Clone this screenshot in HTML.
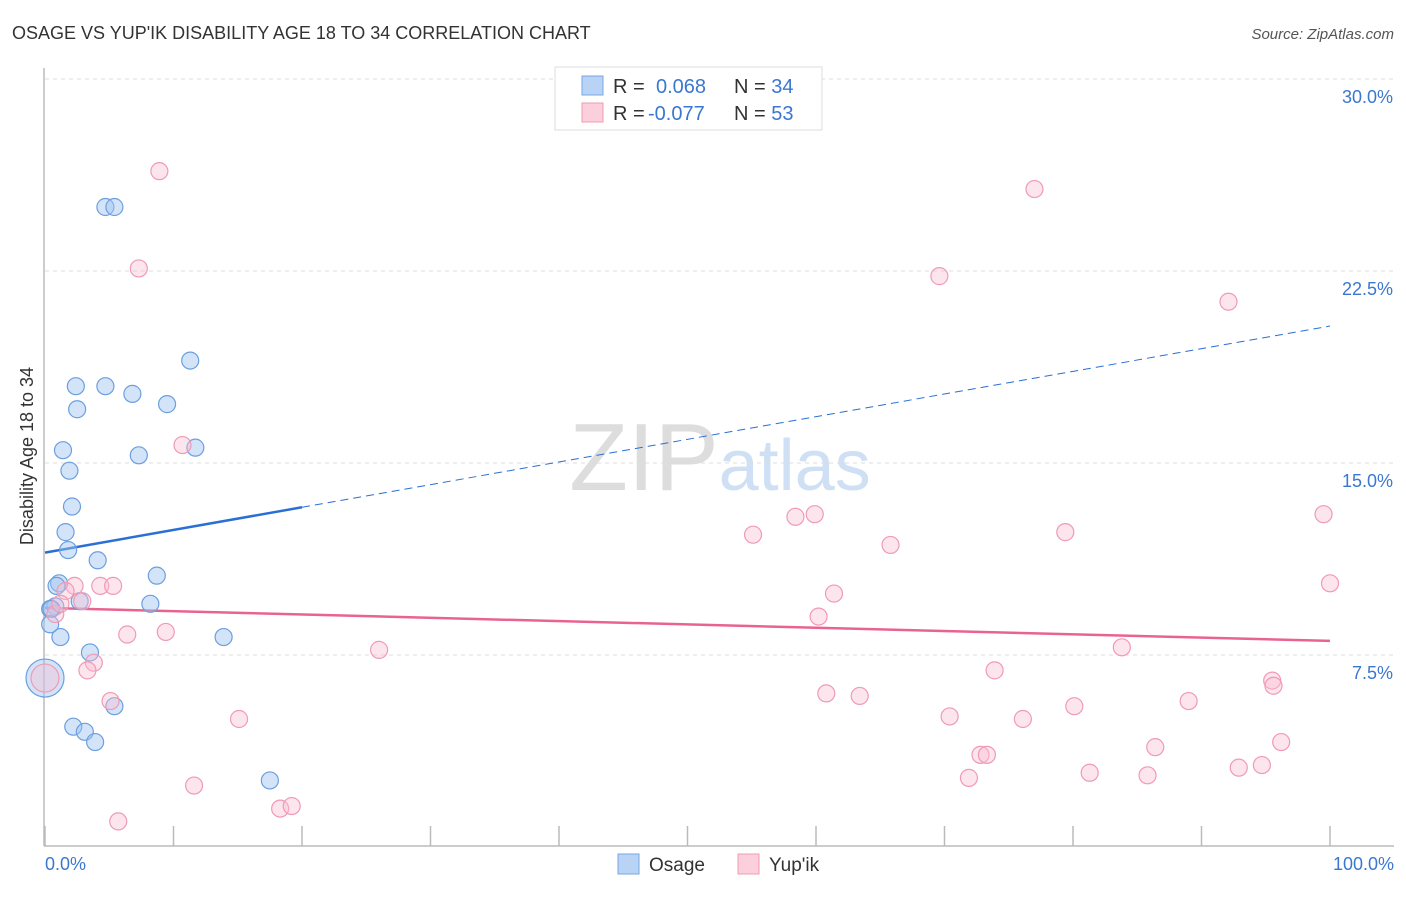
<!DOCTYPE html>
<html><head><meta charset="utf-8"><style>
body{margin:0;background:#fff;font-family:"Liberation Sans",sans-serif;}
svg text{font-family:"Liberation Sans",sans-serif;}
</style></head><body>
<svg id="chart" width="1406" height="892" xmlns="http://www.w3.org/2000/svg">
<text x="12" y="39" font-size="18" fill="#333">OSAGE VS YUP'IK DISABILITY AGE 18 TO 34 CORRELATION CHART</text>
<text x="1394" y="39" font-size="15" fill="#555" text-anchor="end" font-style="italic">Source: ZipAtlas.com</text>
<text x="720" y="490" font-size="96" text-anchor="middle" fill="#ddd" font-family="Liberation Serif">ZIP<tspan fill="#cfe0f5" font-family="Liberation Sans" font-size="72">atlas</tspan></text>
<g id="grid"></g>
<g id="axes"></g>
<g id="trends"></g>
<g id="pts"></g>
<text transform="translate(33,456) rotate(-90)" font-size="18" fill="#333" text-anchor="middle">Disability Age 18 to 34</text>
<text x="45" y="870" font-size="18" fill="#3a78d0">0.0%</text>
<text x="1394" y="870" font-size="18" fill="#3a78d0" text-anchor="end">100.0%</text>
<g>
<rect x="555" y="67" width="267" height="63" fill="#fff" stroke="#ddd"/>
<rect x="582" y="76" width="21" height="19" fill="#b8d3f5" stroke="#7aa7e0"/>
<rect x="582" y="103" width="21" height="19" fill="#fccfdc" stroke="#f09ab5"/>
<text x="613" y="93" font-size="20" fill="#333">R = <tspan fill="#3a78d0" x="656">0.068</tspan><tspan x="734" fill="#333">N = </tspan><tspan fill="#3a78d0">34</tspan></text>
<text x="613" y="120" font-size="20" fill="#333">R = <tspan fill="#3a78d0" x="648">-0.077</tspan><tspan x="734" fill="#333">N = </tspan><tspan fill="#3a78d0">53</tspan></text>
</g>
<g>
<rect x="618" y="854" width="21" height="20" fill="#b8d3f5" stroke="#7aa7e0"/>
<text x="649" y="871" font-size="19" fill="#333">Osage</text>
<rect x="738" y="854" width="21" height="20" fill="#fccfdc" stroke="#f09ab5"/>
<text x="769" y="871" font-size="19" fill="#333">Yup'ik</text>
</g>
</svg>
<script>
const yTicks=[7.5,15,22.5,30];
const yTickLabels=["7.5%","15.0%","22.5%","30.0%"];
const xTicks=[0,10,20,30,40,50,60,70,80,90,100];
const osageX=[4.7,5.4,11.3,2.4,4.7,6.8,9.5,2.5,11.7,1.4,7.3,1.9,2.1,1.6,1.8,4.1,8.7,1.1,0.9,8.2,2.7,0.8,0.4,0.5,1.2,13.9,3.5,0,5.4,2.2,3.1,3.9,17.5,0.4];
const osageY=[25.0,25.0,19.0,18.0,18.0,17.7,17.3,17.1,15.6,15.5,15.3,14.7,13.3,12.3,11.6,11.2,10.6,10.3,10.2,9.5,9.6,9.4,9.3,9.3,8.2,8.2,7.6,6.6,5.5,4.7,4.5,4.1,2.6,8.7];
const yupikX=[8.9,77.0,7.3,69.6,92.1,10.7,99.5,55.1,58.4,59.9,79.4,65.8,2.3,4.3,5.3,2.9,100,61.4,1.6,60.2,0.8,9.4,6.4,26.0,83.8,3.8,3.3,73.9,0,60.8,63.4,5.1,80.1,89.0,95.5,95.6,15.1,70.4,76.1,86.4,96.2,72.8,73.3,81.3,85.8,92.9,94.7,71.9,11.6,18.3,19.2,5.7,1.2];
const yupikY=[26.4,25.7,22.6,22.3,21.3,15.7,13.0,12.2,12.9,13.0,12.3,11.8,10.2,10.2,10.2,9.6,10.3,9.9,10.0,9.0,9.1,8.4,8.3,7.7,7.8,7.2,6.9,6.9,6.6,6.0,5.9,5.7,5.5,5.7,6.5,6.3,5.0,5.1,5.0,3.9,4.1,3.6,3.6,2.9,2.8,3.1,3.2,2.7,2.4,1.5,1.6,1.0,9.5];
const osageTrend=[11.5,20.35];
const yupikTrend=[9.34,8.05];
const osageSolidEnd=20;
const NS="http://www.w3.org/2000/svg";
const sx=v=>45+v*12.85, sy=v=>847-v*25.6;
function mk(tag,parent,attrs){const e=document.createElementNS(NS,tag);for(const k in attrs)e.setAttribute(k,attrs[k]);parent.appendChild(e);return e;}
const grid=document.getElementById('grid'),axes=document.getElementById('axes'),tr=document.getElementById('trends'),pts=document.getElementById('pts');
yTicks.forEach((t,i)=>{
 const l=mk('line',grid,{x1:45,x2:1394,y1:sy(t),y2:sy(t),stroke:'#ddd','stroke-dasharray':'4,4'});
 
 
 const tx=mk('text',grid,{x:1393,y:sy(t)+24,'font-size':18,fill:'#3a78d0','text-anchor':'end'});
 tx.textContent=yTickLabels[i];
 
 
});
const ya=mk('line',axes,{x1:44,x2:44,y1:68,y2:846,stroke:'#bbb','stroke-width':1.5});


const xa=mk('line',axes,{x1:44,x2:1394,y1:846,y2:846,stroke:'#bbb','stroke-width':1.5});


xTicks.forEach(t=>{
 const k=mk('line',axes,{x1:sx(t),x2:sx(t),y1:826,y2:846,stroke:'#bbb','stroke-width':1.5});
 
 
});
const ty=x=>osageTrend[0]+(osageTrend[1]-osageTrend[0])*x/100;
const t1=mk('line',tr,{x1:sx(0),y1:sy(ty(0)),x2:sx(osageSolidEnd),y2:sy(ty(osageSolidEnd)),stroke:'#2a6fd6','stroke-width':2.5});


const t2=mk('line',tr,{x1:sx(osageSolidEnd),y1:sy(ty(osageSolidEnd)),x2:sx(100),y2:sy(ty(100)),stroke:'#2a6fd6','stroke-width':1,'stroke-dasharray':'8,5'});


const t3=mk('line',tr,{x1:sx(0),y1:sy(yupikTrend[0]),x2:sx(100),y2:sy(yupikTrend[1]),stroke:'#e8648f','stroke-width':2.5});


osageX.forEach((x,i)=>{
 const c=mk('circle',pts,{cx:sx(x),cy:sy(osageY[i]),r:(x===0?19:8.5),fill:'rgba(160,196,240,0.45)',stroke:'#6b9fe0','stroke-width':1.2});
 
 
});
yupikX.forEach((x,i)=>{
 const c=mk('circle',pts,{cx:sx(x),cy:sy(yupikY[i]),r:(x===0?14:8.5),fill:'rgba(250,190,210,0.4)',stroke:'#f09ab5','stroke-width':1.2});
 
 
});
</script>
</body></html>
